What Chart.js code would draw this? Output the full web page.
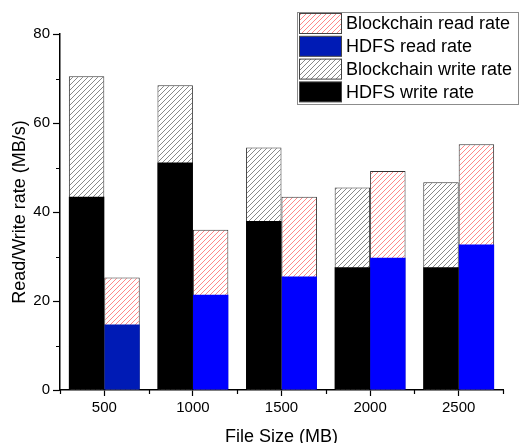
<!DOCTYPE html>
<html>
<head>
<meta charset="utf-8">
<script src="https://cdn.jsdelivr.net/npm/chart.js@4.4.1/dist/chart.umd.min.js"></script>
<style>
  html, body { margin: 0; padding: 0; background: #fff; }
  #wrap { width: 520px; height: 443px; position: relative; }
</style>
</head>
<body>
<div id="wrap"><canvas id="rates" width="520" height="443"></canvas></div>
<script>
// data (MB/s)
const fileSizes = ['500', '1000', '1500', '2000', '2500'];
const hdfsWrite = [43.4, 51.1, 38.0, 27.6, 27.6];
const chainWrite = [70.5, 68.5, 54.5, 45.5, 46.7];
const hdfsRead = [14.7, 21.4, 25.5, 29.7, 32.7];
const chainRead = [25.3, 36.0, 43.4, 49.2, 55.2];
const yMinor = [10, 30, 50, 70];

const FONT = '"Liberation Sans", Arial, sans-serif';
Chart.defaults.font.family = FONT;
Chart.defaults.color = '#000';

// diagonal hatch fill, like the origin-style patterns
function hatch(color) {
  const s = 5;
  const tile = document.createElement('canvas');
  tile.width = s; tile.height = s;
  const t = tile.getContext('2d');
  t.fillStyle = '#fff';
  t.fillRect(0, 0, s, s);
  t.strokeStyle = color;
  t.lineWidth = 0.9;
  t.beginPath();
  t.moveTo(0, s); t.lineTo(s, 0);
  t.moveTo(-1, 1); t.lineTo(1, -1);
  t.moveTo(s - 1, s + 1); t.lineTo(s + 1, s - 1);
  t.stroke();
  return document.getElementById('rates').getContext('2d').createPattern(tile, 'repeat');
}

const greyHatch = hatch('#7a7a7a');
const redHatch = hatch('#ff7a7a');

// short outward minor ticks on both axes
const minorTicks = {
  id: 'minorTicks',
  afterDraw(chart) {
    const { ctx, chartArea, scales } = chart;
    ctx.save();
    ctx.strokeStyle = '#000';
    ctx.lineWidth = 1.2;
    ctx.beginPath();
    yMinor.forEach(v => {
      const y = Math.round(scales.y.getPixelForValue(v)) + 0.5;
      ctx.moveTo(chartArea.left - 4, y);
      ctx.lineTo(chartArea.left, y);
    });
    const step = (chartArea.right - chartArea.left) / fileSizes.length;
    for (let i = 0; i <= fileSizes.length; i++) {
      const x = Math.round(chartArea.left + i * step) + 0.5;
      ctx.moveTo(x, chartArea.bottom);
      ctx.lineTo(x, chartArea.bottom + 4);
    }
    ctx.stroke();
    ctx.restore();
  }
};

// legend box in the top right corner
const boxLegend = {
  id: 'boxLegend',
  afterDraw(chart) {
    const ctx = chart.ctx;
    const sets = chart.data.datasets.slice().reverse();
    ctx.save();
    ctx.fillStyle = '#fff';
    ctx.fillRect(297.5, 12.5, 221, 92);
    ctx.strokeStyle = '#8c8c8c';
    ctx.lineWidth = 1;
    ctx.strokeRect(297.5, 12.5, 221, 92);
    sets.forEach((ds, i) => {
      const y = 13.5 + i * 22.8;
      const fill = Array.isArray(ds.backgroundColor) ? ds.backgroundColor[0] : ds.backgroundColor;
      ctx.fillStyle = fill;
      ctx.fillRect(299.5, y, 42, 20);
      ctx.strokeStyle = '#444';
      ctx.strokeRect(299.5, y, 42, 20);
      ctx.fillStyle = '#000';
      ctx.font = '18px ' + FONT;
      ctx.textBaseline = 'middle';
      ctx.fillText(ds.label, 346, y + 11);
    });
    ctx.restore();
  }
};

new Chart(document.getElementById('rates'), {
  type: 'bar',
  data: {
    labels: fileSizes,
    datasets: [
      {
        label: 'HDFS write rate',
        data: hdfsWrite,
        stack: 'write',
        backgroundColor: '#000',
        borderWidth: 0
      },
      {
        label: 'Blockchain write rate',
        data: chainWrite,
        stack: 'write',
        backgroundColor: greyHatch,
        borderColor: '#333',
        borderWidth: 1
      },
      {
        label: 'HDFS read rate',
        data: hdfsRead,
        stack: 'read',
        backgroundColor: ['#001bb5', '#0000ff', '#0000ff', '#0000ff', '#0000ff'],
        borderColor: '#555',
        borderWidth: 0
      },
      {
        label: 'Blockchain read rate',
        data: chainRead,
        stack: 'read',
        backgroundColor: redHatch,
        borderColor: '#333',
        borderWidth: 1
      }
    ]
  },
  options: {
    responsive: false,
    animation: false,
    devicePixelRatio: 1,
    categoryPercentage: 0.8,
    barPercentage: 1.0,
    layout: { padding: { top: 34, right: 17, left: 0, bottom: 0 } },
    plugins: {
      legend: { display: false },
      tooltip: { enabled: false }
    },
    scales: {
      x: {
        stacked: true,
        afterFit(scale) { scale.height = 53; },
        grid: {
          offset: false,
          drawOnChartArea: false,
          drawTicks: true,
          tickLength: 6,
          color: '#000',
          tickWidth: 1.2
        },
        border: { color: '#000', width: 1.5 },
        ticks: { font: { size: 15 }, padding: 3, color: '#000' },
        title: {
          display: true,
          text: 'File Size (MB)',
          font: { size: 18 },
          color: '#000',
          padding: { top: 0, bottom: -5 }
        }
      },
      y: {
        stacked: false,
        min: 0,
        max: 80,
        afterFit(scale) { scale.width = 60; },
        grid: {
          drawOnChartArea: false,
          drawTicks: true,
          tickLength: 7,
          color: '#000',
          tickWidth: 1.2
        },
        border: { color: '#000', width: 1.5 },
        ticks: { stepSize: 20, font: { size: 15 }, padding: 3, color: '#000' },
        title: {
          display: true,
          text: 'Read/Write rate (MB/s)',
          font: { size: 18 },
          color: '#000',
          padding: { top: 9, bottom: 0 }
        }
      }
    }
  },
  plugins: [minorTicks, boxLegend]
});
</script>
</body>
</html>
